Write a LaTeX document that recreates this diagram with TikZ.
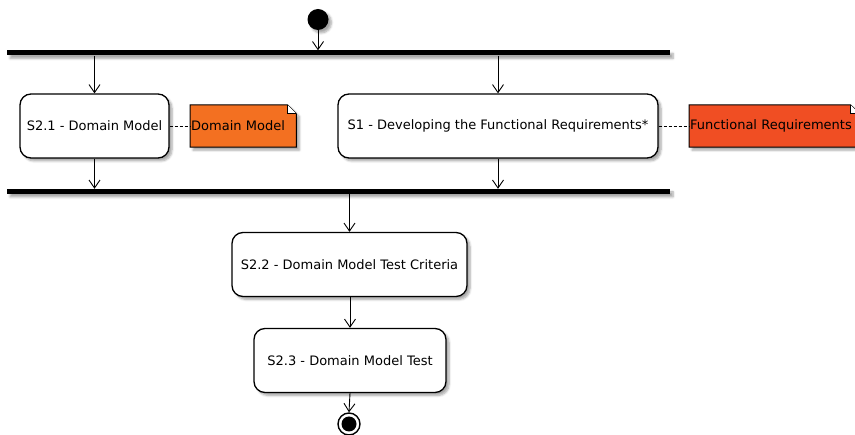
\documentclass[tikz,border=0pt]{standalone}
\usepackage{fontspec}
\setmainfont{DejaVu Sans}
\usetikzlibrary{arrows.meta,shadows.blur,backgrounds}

\definecolor{noteA}{HTML}{F37021}
\definecolor{noteB}{HTML}{F04E23}

\tikzset{
  soft/.style={blur shadow={shadow xshift=3pt, shadow yshift=-3pt,
      shadow blur steps=6, shadow opacity=35}},
  activity/.style={rectangle, rounded corners=11pt, draw=black, line width=1.3pt,
      fill=white, soft, minimum height=64pt, inner sep=2pt,
      font=\fontsize{13}{15}\selectfont},
  syncbar/.style={rectangle, fill=black, inner sep=0pt, minimum width=663pt,
      minimum height=5pt, soft},
  notebox/.style={rectangle, inner sep=1pt, minimum height=42pt, align=left,
      font=\fontsize{13}{15}\selectfont},
  flow/.style={line width=0.9pt, -{Straight Barb[length=8pt,width=11pt,line width=0.9pt]}},
  anchorline/.style={line width=0.9pt, dash pattern=on 3pt off 2pt},
  notefold/.style={line width=1pt, draw=black}
}

\begin{document}
\begin{tikzpicture}[x=1pt, y=-1pt]
  \useasboundingbox (0,0) rectangle (855,435);
  \clip (0,0) rectangle (855,435);

  % start and end points
  \node[circle, fill=black, minimum size=21pt, inner sep=0pt, soft] (start) at (318,19.5) {};
  \node[circle, draw=black, line width=1.4pt, fill=white, minimum size=22pt, inner sep=0pt] (stop) at (349,424) {};
  \fill[black] (stop.center) circle (7.5pt);

  % fork and join bars
  \node[syncbar] (fork) at (338.5,53) {};
  \node[syncbar] (join) at (338.5,191.5) {};

  % activities
  \node[activity, minimum width=149pt] (dm) at (94.5,126) {S2.1 - Domain Model};
  \node[activity, minimum width=320pt] (fr) at (498,126) {S1 - Developing the Functional Requirements*};
  \node[activity, minimum width=235pt] (crit) at (349.5,264.5) {S2.2 - Domain Model Test Criteria};
  \node[activity, minimum width=192pt] (test) at (350,360.5) {S2.3 - Domain Model Test};

  % notes
  \node[notebox, anchor=west, text width=104pt] (ndm) at (190,126) {Domain Model};
  \node[notebox, anchor=west, text width=168pt] (nfr) at (689,126) {Functional Requirements};

  \begin{scope}[on background layer]
    \foreach \n/\c in {ndm/noteA, nfr/noteB}{
      \path[fill=\c, draw=black, line width=1pt, soft]
        (\n.south west) -- (\n.north west) -- ([xshift=-9pt]\n.north east)
        -- ([yshift=-9pt]\n.north east) -- (\n.south east) -- cycle;
      \path[fill=white, notefold]
        ([xshift=-9pt]\n.north east) -- ([xshift=-9pt,yshift=-9pt]\n.north east)
        -- ([yshift=-9pt]\n.north east);
    }
  \end{scope}

  % note links
  \draw[anchorline] (dm.east) -- (ndm.west);
  \draw[anchorline] (fr.east) -- (nfr.west);

  % control flow
  \draw[flow] (start.south) -- (start |- fork.north);
  \draw[flow] (fork.south -| dm) -- (dm.north);
  \draw[flow] (fork.south -| fr) -- (fr.north);
  \draw[flow] (dm.south) -- (dm |- join.north);
  \draw[flow] (fr.south) -- (fr |- join.north);
  \draw[flow] (join.south -| crit) -- (crit.north);
  \draw[flow] (crit.south -| test) -- (test.north);
  \draw[flow] (test.south) -- (stop.north);
\end{tikzpicture}
\end{document}
